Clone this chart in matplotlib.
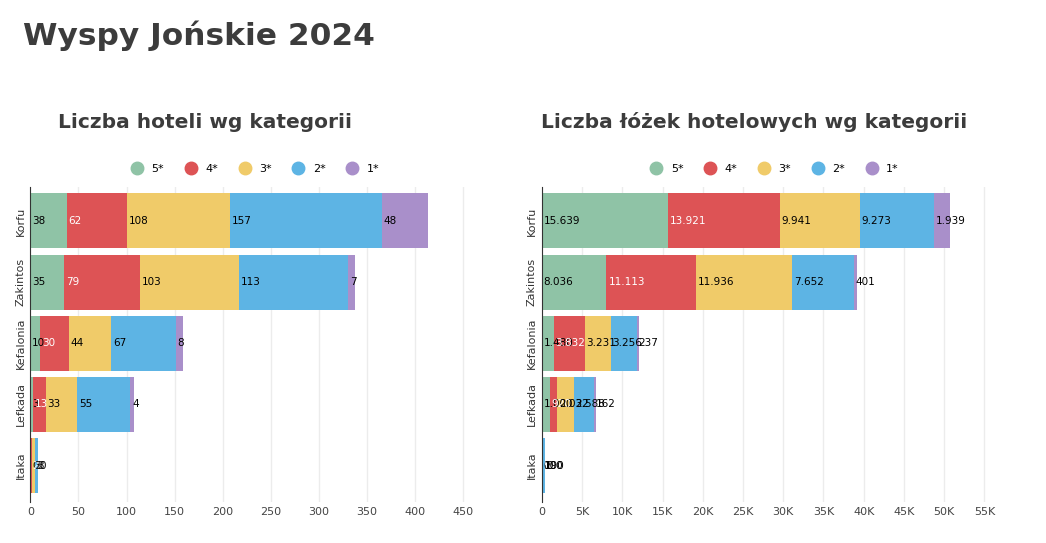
import numpy as np
import matplotlib.pyplot as plt
from matplotlib.ticker import FuncFormatter
from matplotlib.lines import Line2D

# data
islands = ["Korfu", "Zakintos", "Kefalonia", "Lefkada", "Itaka"]
categories = ["5*", "4*", "3*", "2*", "1*"]
colors = ["#8fc3a6", "#dd5355", "#f0cb69", "#5db4e4", "#a98fca"]

hotels = {
    "5*": [38, 35, 10, 3, 0],
    "4*": [62, 79, 30, 13, 2],
    "3*": [108, 103, 44, 33, 3],
    "2*": [157, 113, 67, 55, 3],
    "1*": [48, 7, 8, 4, 0],
}
beds = {
    "5*": [15639, 8036, 1480, 1000, 0],
    "4*": [13921, 11113, 3832, 920, 50],
    "3*": [9941, 11936, 3231, 2032, 100],
    "2*": [9273, 7652, 3256, 2588, 190],
    "1*": [1939, 401, 237, 162, 0],
}

fig = plt.figure(figsize=(10.46, 5.43), dpi=100)
fig.text(0.022, 0.935, "Wyspy Jońskie 2024", fontsize=22.5, fontweight="bold",
         color="#3c3c3c", va="center")


def fmt_num(v):
    return f"{v:,}".replace(",", ".")


def draw(ax, data, xmax, ticks, tickfmt, title, title_x):
    y = np.arange(len(islands))
    left = np.zeros(len(islands))
    for cat, col in zip(categories, colors):
        vals = np.array(data[cat], dtype=float)
        ax.barh(y, vals, left=left, color=col, height=0.9, label=cat)
        for yi, (l, v) in enumerate(zip(left, vals)):
            tc = "white" if cat == "4*" else "black"
            ax.text(l + xmax * 0.004, yi, fmt_num(int(v)), va="center", ha="left",
                    fontsize=7.5, color=tc)
        left += vals
    ax.set_yticks(y)
    ax.set_yticklabels(islands, rotation=90, va="center", fontsize=8, color="#333")
    ax.set_ylim(4.6, -0.55)
    ax.set_xlim(0, xmax)
    ax.set_xticks(ticks)
    ax.xaxis.set_major_formatter(FuncFormatter(tickfmt))
    ax.tick_params(axis="x", length=0, labelsize=8, colors="#444")
    ax.tick_params(axis="y", length=0)
    ax.grid(axis="x", color="#ececec", linewidth=1)
    ax.set_axisbelow(True)
    for s in ["top", "right", "bottom"]:
        ax.spines[s].set_visible(False)
    ax.spines["left"].set_color("#333")
    fig.text(title_x, 0.775, title, fontsize=14.5, fontweight="bold",
             color="#3c3c3c", ha="center", va="center")
    handles = [Line2D([], [], marker="o", linestyle="", markersize=9,
                      markerfacecolor=c, markeredgecolor=c) for c in colors]
    ax.legend(handles, categories, loc="lower center", bbox_to_anchor=(0.5, 1.01),
              ncol=5, frameon=False, fontsize=8, handletextpad=0.3, columnspacing=1.4)


ax1 = fig.add_axes([0.029, 0.075, 0.425, 0.58])
draw(ax1, hotels, 462, [0, 50, 100, 150, 200, 250, 300, 350, 400, 450],
     lambda v, p: f"{int(v)}", "Liczba hoteli wg kategorii", 0.196)
ax2 = fig.add_axes([0.518, 0.075, 0.44, 0.58])
draw(ax2, beds, 57200, [0, 5000, 10000, 15000, 20000, 25000, 30000, 35000, 40000, 45000, 50000, 55000],
     lambda v, p: "0" if v == 0 else f"{int(v/1000)}K", "Liczba łóżek hotelowych wg kategorii", 0.721)

fig.savefig("out.png", dpi=100)
